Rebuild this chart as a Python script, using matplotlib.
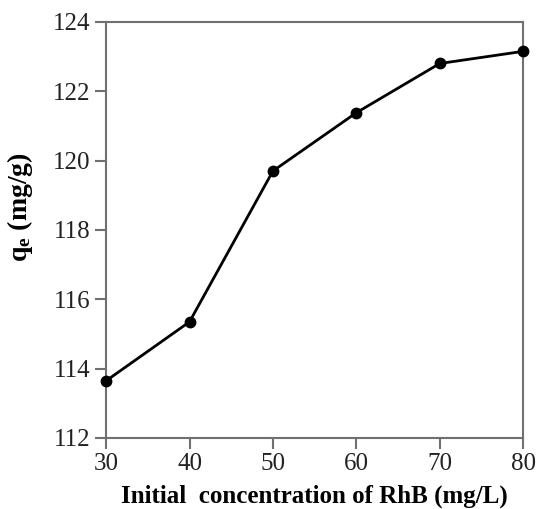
import matplotlib
matplotlib.use("Agg")
import matplotlib.pyplot as plt

# ------------------------------------------------------------------------------

conc = [30, 40, 50, 60, 70, 80]
qe = [113.65, 115.35, 119.7, 121.38, 122.8, 123.15]

xticks = [30, 40, 50, 60, 70, 80]
yticks = [112, 114, 116, 118, 120, 122, 124]

plt.rcParams["font.family"] = ["Liberation Serif", "DejaVu Serif"]
plt.rcParams["mathtext.fontset"] = "custom"
plt.rcParams["mathtext.rm"] = "Liberation Serif"
plt.rcParams["mathtext.bf"] = "Liberation Serif:bold"

fig = plt.figure(figsize=(5.36, 5.09), dpi=100)
ax = fig.add_axes([0.198, 0.1395, 0.778, 0.8175])

ax.plot(conc, qe, color="k", lw=2, marker="o", ms=7.5, clip_on=False, zorder=3)

ax.set_xlim(30, 80)
ax.set_ylim(112, 124)
ax.set_xticks(xticks)
ax.set_yticks(yticks)

for s in ax.spines.values():
  s.set_color("#707070")
  s.set_linewidth(1.5)
ax.tick_params(direction="out", length=8, width=1.5, color="#707070",
               labelsize=18, labelcolor="#222222", pad=3)

ax.set_xlabel("Initial  concentration of RhB (mg/L)", fontsize=18, fontweight="bold", labelpad=7)
ax.set_ylabel(r"$\mathbf{q_e}$ (mg/g)", fontsize=20, fontweight="bold")
ax.yaxis.set_label_coords(-0.17, 0.555)

fig.savefig("out.png", dpi=100)
